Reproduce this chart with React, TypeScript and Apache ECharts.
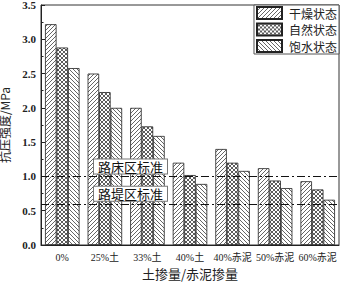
import React, { useEffect, useRef } from "react";
import * as echarts from "echarts";

const categories = ["0%", "25%土", "33%土", "40%土", "40%赤泥", "50%赤泥", "60%赤泥"];
const seriesNames = ["干燥状态", "自然状态", "饱水状态"];
const dryValues = [3.22, 2.5, 2.0, 1.2, 1.4, 1.12, 0.93];
const naturalValues = [2.88, 2.23, 1.73, 1.02, 1.2, 0.94, 0.81];
const saturatedValues = [2.58, 2.0, 1.59, 0.89, 1.08, 0.83, 0.66];
const yTicks = [0, 0.5, 1.0, 1.5, 2.0, 2.5, 3.0, 3.5];
const standardLines = [
  { name: "路床区标准", value: 1.0 },
  { name: "路堤区标准", value: 0.6 },
];

function makePattern(kind: string): HTMLCanvasElement {
  const s = 4;
  const c = document.createElement("canvas");
  c.width = s;
  c.height = s;
  const ctx = c.getContext("2d")!;
  ctx.fillStyle = "#fff";
  ctx.fillRect(0, 0, s, s);
  ctx.strokeStyle = "#333";
  ctx.lineWidth = kind === "cross" ? 0.8 : 0.75;
  const fwd = () => {
    ctx.beginPath();
    ctx.moveTo(-1, s + 1);
    ctx.lineTo(s + 1, -1);
    ctx.moveTo(-1, 1);
    ctx.lineTo(1, -1);
    ctx.moveTo(s - 1, s + 1);
    ctx.lineTo(s + 1, s - 1);
    ctx.stroke();
  };
  const back = () => {
    ctx.beginPath();
    ctx.moveTo(-1, -1);
    ctx.lineTo(s + 1, s + 1);
    ctx.moveTo(s - 1, -1);
    ctx.lineTo(s + 1, 1);
    ctx.moveTo(-1, s - 1);
    ctx.lineTo(1, s + 1);
    ctx.stroke();
  };
  if (kind === "fwd") fwd();
  else if (kind === "back") back();
  else {
    fwd();
    back();
  }
  return c;
}

export default function App() {
  const ref = useRef<HTMLDivElement>(null);
  useEffect(() => {
    if (!ref.current) return;
    const chart = echarts.init(ref.current, null, { renderer: "svg" });
    const patterns = [makePattern("fwd"), makePattern("cross"), makePattern("back")];
    const values = [dryValues, naturalValues, saturatedValues];
    const serif = "'Liberation Serif', 'Noto Sans CJK SC', serif";
    const cjk = "'Noto Sans CJK SC', sans-serif";
    const series: any[] = seriesNames.map((name, i) => ({
      name,
      type: "bar",
      data: values[i],
      barWidth: 11.5,
      barGap: "0%",
      itemStyle: {
        color: { image: patterns[i], repeat: "repeat" },
        borderColor: "#222",
        borderWidth: 0.8,
      },
    }));
    series[0].markLine = {
      symbol: "none",
      silent: true,
      lineStyle: { color: "#111", width: 1.2, type: [8, 3, 2, 3] },
      label: {
        show: true,
        position: "insideStartTop",
        distance: [53, 3],
        formatter: (p: any) => p.name,
        fontFamily: cjk,
        fontSize: 13,
        color: "#111",
        backgroundColor: "#fff",
        borderColor: "#777",
        borderWidth: 1,
        padding: [0, 4, 0, 4],
        lineHeight: 14,
      },
      data: standardLines.map((d) => ({ name: d.name, yAxis: d.value })),
    };
    chart.setOption({
      animation: false,
      backgroundColor: "#fff",
      grid: {
        left: 41,
        right: 5,
        top: 5,
        bottom: 37,
        containLabel: false,
        outerBoundsMode: "none",
        show: true,
        borderColor: "#333",
        borderWidth: 1,
        backgroundColor: "transparent",
      },
      legend: {
        orient: "vertical",
        right: 5,
        top: 5,
        itemWidth: 25,
        itemHeight: 12,
        itemGap: 2.5,
        padding: [1, 2, 1, 2],
        borderColor: "#555",
        borderWidth: 1,
        backgroundColor: "#fff",
        icon: "rect",
        textStyle: { fontFamily: cjk, fontSize: 12, lineHeight: 12, color: "#222", padding: [0, 0, 0, 2] },
        data: seriesNames,
      },
      xAxis: {
        type: "category",
        data: categories,
        name: "土掺量/赤泥掺量",
        nameLocation: "middle",
        nameGap: 20,
        nameTextStyle: { fontFamily: cjk, fontSize: 13, color: "#222" },
        axisLine: { lineStyle: { color: "#222", width: 1 } },
        axisTick: { show: false },
        axisLabel: { fontFamily: serif, fontSize: 10, color: "#222", margin: 7, interval: 0 },
      },
      yAxis: {
        type: "value",
        min: yTicks[0],
        max: yTicks[yTicks.length - 1],
        interval: 0.5,
        name: "抗压强度/MPa",
        nameLocation: "middle",
        nameGap: 22,
        nameTextStyle: { fontFamily: cjk, fontSize: 12, lineHeight: 13, color: "#222" },
        axisLine: { show: true, lineStyle: { color: "#222", width: 1 } },
        axisTick: { show: true, inside: true, length: 4, lineStyle: { color: "#222" } },
        minorTick: { show: true, splitNumber: 2, length: 2.5, lineStyle: { color: "#222" } },
        splitLine: { show: false },
        axisLabel: {
          fontFamily: serif,
          fontSize: 11,
          fontWeight: "bold",
          color: "#222",
          margin: 5,
          formatter: (v: number) => v.toFixed(1),
        },
      },
      series,
    });
    return () => chart.dispose();
  }, []);
  return <div ref={ref} style={{ width: 344, height: 282, position: "absolute", left: 0, top: 0 }} />;
}
